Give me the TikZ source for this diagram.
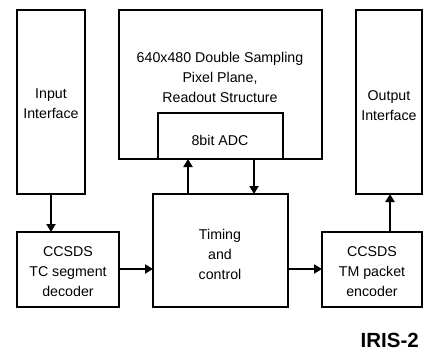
\documentclass[tikz,border=0pt]{standalone}
\usepackage{fontspec}
\setmainfont{Liberation Sans}
\usetikzlibrary{arrows.meta}
\begin{document}
\begin{tikzpicture}[x=1pt,y=-1pt,
  blk/.style={draw,line width=2pt,inner sep=0pt},
  lbl/.style={align=center,inner sep=0pt,font=\fontsize{14.2}{20}\selectfont},
  conn/.style={line width=2pt,-{Triangle[length=8pt,width=9pt]}}]
\useasboundingbox (0,0) rectangle (423,351);
% blocks
\draw[blk] (17,10) rectangle (85,194);
\node[lbl] (inif) at (51,104) {Input\\Interface};
\draw[blk] (119,10) rectangle (322,159);
\node[lbl] (pix) at (220,77) {640x480 Double Sampling\\Pixel Plane,\\Readout Structure};
\draw[blk] (158,113) rectangle (283,159);
\node[lbl] (adc) at (220,140) {8bit ADC};
\draw[blk] (356,10) rectangle (422,194);
\node[lbl] (outif) at (389,106) {Output\\Interface};
\draw[blk] (17,232) rectangle (119,307);
\node[lbl] (tc) at (68,272) {CCSDS\\TC segment\\decoder};
\draw[blk] (153,194) rectangle (288,307);
\node[lbl] (tim) at (220,254) {Timing\\and\\control};
\draw[blk] (322,232) rectangle (422,307);
\node[lbl] (tm) at (372,272) {CCSDS\\TM packet\\encoder};
% connection points on block edges
\coordinate (inifB) at (51,194);
\coordinate (tcT) at (51,232);
\coordinate (tcR) at (119,269);
\coordinate (timL) at (153,269);
\coordinate (timR) at (288,269);
\coordinate (tmL) at (322,269);
\coordinate (tmT) at (390,232);
\coordinate (outB) at (390,194);
\coordinate (timT1) at (188,194);
\coordinate (adcB1) at (188,159);
\coordinate (adcB2) at (254,159);
\coordinate (timT2) at (254,194);
% connectors
\draw[conn] (inifB) -- (tcT);
\draw[conn] (tcR) -- (timL);
\draw[conn] (timR) -- (tmL);
\draw[conn] (tmT) -- (outB);
\draw[conn] (timT1) -- (adcB1);
\draw[conn] (adcB2) -- (timT2);
\node[anchor=east,inner sep=0pt,font=\fontsize{20.5}{24}\selectfont\bfseries] (iris) at (419,340) {IRIS-2};
\end{tikzpicture}
\end{document}
